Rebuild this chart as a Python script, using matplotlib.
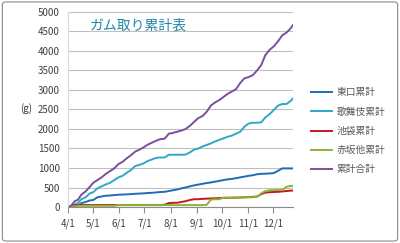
import numpy as np
import pandas as pd
import matplotlib
matplotlib.use('Agg')
import matplotlib.pyplot as plt
from matplotlib.patches import FancyBboxPatch

plt.rcParams['font.family'] = ['Noto Sans CJK JP', 'DejaVu Sans']

# データ
dates = ['04-01', '04-05', '04-09', '04-13', '04-17', '04-22', '04-27', '05-01',
         '05-06', '05-11', '05-16', '05-21', '05-26', '05-31', '06-05', '06-10',
         '06-15', '06-20', '06-25', '06-30', '07-05', '07-10', '07-15', '07-20',
         '07-25', '07-30', '08-04', '08-09', '08-14', '08-19', '08-24', '08-29',
         '09-03', '09-08', '09-13', '09-18', '09-23', '09-28', '10-03', '10-08',
         '10-13', '10-18', '10-23', '10-28', '11-02', '11-07', '11-12', '11-17',
         '11-22', '11-27', '12-02', '12-07', '12-12', '12-17', '12-22', '12-25']

higashiguchi = [0, 10, 20, 40, 100, 130, 170, 180, 250, 270, 290, 295, 305, 315,
                320, 325, 330, 340, 345, 350, 360, 365, 375, 385, 390, 410, 430,
                450, 480, 500, 530, 555, 575, 595, 615, 630, 650, 670, 690, 710,
                720, 740, 760, 780, 800, 815, 840, 850, 855, 860, 870, 930, 990,
                990, 990, 990]
kabukicho = [0, 20, 60, 110, 200, 250, 350, 380, 480, 530, 580, 620, 690, 760,
             800, 880, 950, 1050, 1080, 1120, 1180, 1220, 1260, 1270, 1270, 1340,
             1340, 1340, 1340, 1345, 1400, 1470, 1500, 1550, 1590, 1630, 1680,
             1720, 1760, 1800, 1830, 1880, 1930, 2060, 2140, 2160, 2160, 2170,
             2300, 2380, 2490, 2600, 2640, 2640, 2720, 2790]
ikebukuro = [0, 20, 50, 50, 50, 50, 50, 50, 50, 50, 50, 50, 50, 50, 50, 50, 50,
             50, 50, 50, 50, 50, 50, 50, 60, 100, 110, 110, 130, 150, 180, 200,
             200, 210, 215, 220, 225, 230, 235, 235, 240, 240, 245, 250, 255, 260,
             270, 330, 370, 380, 385, 390, 400, 410, 420, 420]
akasaka = [0, 10, 20, 30, 30, 30, 30, 30, 30, 30, 30, 30, 30, 50, 50, 50, 50, 50,
           50, 50, 50, 50, 50, 50, 50, 50, 50, 50, 50, 50, 50, 50, 50, 50, 55,
           190, 200, 200, 240, 240, 240, 240, 245, 245, 250, 250, 265, 350, 410,
           430, 435, 435, 435, 520, 540, 540]
total = [0, 40, 150, 190, 320, 400, 520, 620, 690, 760, 850, 920, 990, 1100,
         1160, 1250, 1330, 1420, 1470, 1530, 1600, 1650, 1700, 1740, 1750, 1880,
         1900, 1930, 1960, 2000, 2080, 2180, 2280, 2330, 2440, 2600, 2680, 2740,
         2820, 2900, 2960, 3020, 3180, 3300, 3330, 3380, 3500, 3640, 3900, 4030,
         4120, 4250, 4400, 4470, 4580, 4670]

series_names = ['東口累計', '歌舞伎累計', '池袋累計', '赤坂他累計', '累計合計']
series_colors = ['#1F6CB5', '#2FA7C8', '#C8161D', '#8AB534', '#7A4E9E']
month_ticks = ['04-01', '05-01', '06-01', '07-01', '08-01', '09-01', '10-01', '11-01', '12-01']
month_labels = ['4/1', '5/1', '6/1', '7/1', '8/1', '9/1', '10/1', '11/1', '12/1']

x = pd.to_datetime(['2013-' + d for d in dates])
ticks = pd.to_datetime(['2013-' + d for d in month_ticks])

fig = plt.figure(figsize=(4, 2.43), dpi=100)
fig.patches.append(FancyBboxPatch((0.006, 0.008), 0.988, 0.984, boxstyle='round,pad=0,rounding_size=0.01',
                                  transform=fig.transFigure, fc='white', ec='#8C8C8C', lw=0.8, zorder=-1))
ax = fig.add_axes([0.17, 0.148, 0.563, 0.803])
ax.set_facecolor('none')

for vals, name, col in zip([higashiguchi, kabukicho, ikebukuro, akasaka, total], series_names, series_colors):
    ax.plot(x, vals, color=col, lw=1.4, label=name, solid_joinstyle='round')

ax.set_ylim(0, 5000)
ax.set_yticks(np.arange(0, 5001, 500))
ax.set_xlim(x[0], x[-1])
ax.set_xticks(ticks)
ax.set_xticklabels(month_labels)
ax.grid(axis='y', color='#BFBFBF', lw=0.8)
ax.set_axisbelow(True)
for s in ['top', 'right']:
    ax.spines[s].set_visible(False)
ax.spines['left'].set_color('#D9D9D9')
ax.spines['bottom'].set_color('#8C8C8C')
ax.tick_params(axis='y', length=0, labelsize=7, labelcolor='#404040', pad=6)
ax.tick_params(axis='x', length=4, color='#8C8C8C', labelsize=7, labelcolor='#404040', pad=4)

ax.text(0.095, 0.93, 'ガム取り累計表', transform=ax.transAxes, fontsize=10, color='#1F86A8', va='center')
fig.text(0.05, 0.555, '(g)', fontsize=7, color='#404040', va='center')

leg = ax.legend(loc='center left', bbox_to_anchor=(1.04, 0.39), frameon=False, fontsize=7,
                handlelength=2.2, handletextpad=0.4, labelspacing=0.95)
for t in leg.get_texts():
    t.set_color('#595959')

fig.savefig('out.png', dpi=100)
